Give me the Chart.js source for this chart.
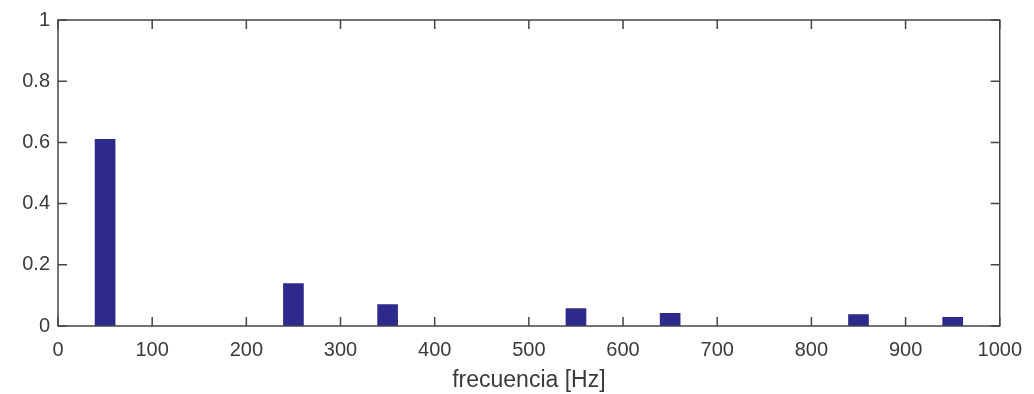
<!DOCTYPE html>
<html>
<head>
<meta charset="utf-8">
<script src="https://cdn.jsdelivr.net/npm/chart.js@4"></script>
<style>
  body { margin: 0; background: #fff; }
  #wrap { width: 1034px; height: 394px; position: relative; }
</style>
</head>
<body>
<div id="wrap"><canvas id="myChart"></canvas></div>
<script>
// frecuencias de los armónicos y su amplitud
var freqs = [50, 250, 350, 550, 650, 850, 950];
var mags = [0.61, 0.139, 0.07, 0.057, 0.041, 0.037, 0.028];
var xTicks = [0, 100, 200, 300, 400, 500, 600, 700, 800, 900, 1000];
var yTicks = [0, 0.2, 0.4, 0.6, 0.8, 1];

var textColor = '#3a3a3a';
var axisColor = '#454545';

// marcas hacia dentro y caja completa, estilo matlab
var boxTicks = {
    id: 'boxTicks',
    afterDraw: function(chart) {
        var ctx = chart.ctx;
        var a = chart.chartArea;
        var xs = chart.scales.x;
        var ys = chart.scales.y;
        var len = 9;
        ctx.save();
        ctx.strokeStyle = axisColor;
        ctx.lineWidth = 1.5;
        ctx.beginPath();
        xTicks.forEach(function(v) {
            var px = xs.getPixelForValue(v);
            ctx.moveTo(px, a.bottom);
            ctx.lineTo(px, a.bottom - len);
            ctx.moveTo(px, a.top);
            ctx.lineTo(px, a.top + len);
        });
        yTicks.forEach(function(v) {
            var py = ys.getPixelForValue(v);
            ctx.moveTo(a.left, py);
            ctx.lineTo(a.left + len, py);
            ctx.moveTo(a.right, py);
            ctx.lineTo(a.right - len, py);
        });
        ctx.stroke();
        ctx.strokeRect(a.left, a.top, a.right - a.left, a.bottom - a.top);
        ctx.restore();
    }
};

new Chart('myChart', {
    type: 'bar',
    data: {
        datasets: [{
            data: freqs.map(function(f, i) { return { x: f, y: mags[i] }; }),
            backgroundColor: '#2e2a8c',
            borderWidth: 0,
            barThickness: 20
        }]
    },
    options: {
        responsive: true,
        maintainAspectRatio: false,
        animation: { duration: 0 },
        layout: {
            padding: { top: 14, right: 32, left: 0, bottom: 0 }
        },
        plugins: {
            legend: { display: false },
            tooltip: { enabled: false }
        },
        scales: {
            x: {
                type: 'linear',
                min: 0,
                max: 1000,
                offset: false,
                grid: { display: false, drawTicks: false },
                border: { display: false },
                afterBuildTicks: function(scale) {
                    scale.ticks = xTicks.map(function(v) { return { value: v }; });
                },
                afterFit: function(scale) { scale.height = 68; },
                ticks: {
                    color: textColor,
                    padding: 12,
                    maxRotation: 0,
                    autoSkip: false,
                    font: { family: 'Liberation Sans, Arial, sans-serif', size: 20 },
                    callback: function(value) { return String(value); }
                },
                title: {
                    display: true,
                    text: 'frecuencia [Hz]',
                    color: textColor,
                    padding: { top: 0, bottom: 0 },
                    font: { family: 'Liberation Sans, Arial, sans-serif', size: 23 }
                }
            },
            y: {
                min: 0,
                max: 1,
                grid: { display: false, drawTicks: false },
                border: { display: false },
                afterBuildTicks: function(scale) {
                    scale.ticks = yTicks.map(function(v) { return { value: v }; });
                },
                afterFit: function(scale) { scale.width = 58; },
                ticks: {
                    color: textColor,
                    padding: 8,
                    font: { family: 'Liberation Sans, Arial, sans-serif', size: 20 },
                    callback: function(value) { return String(Math.round(value * 10) / 10); }
                }
            }
        }
    },
    plugins: [boxTicks]
});
</script>
</body>
</html>
